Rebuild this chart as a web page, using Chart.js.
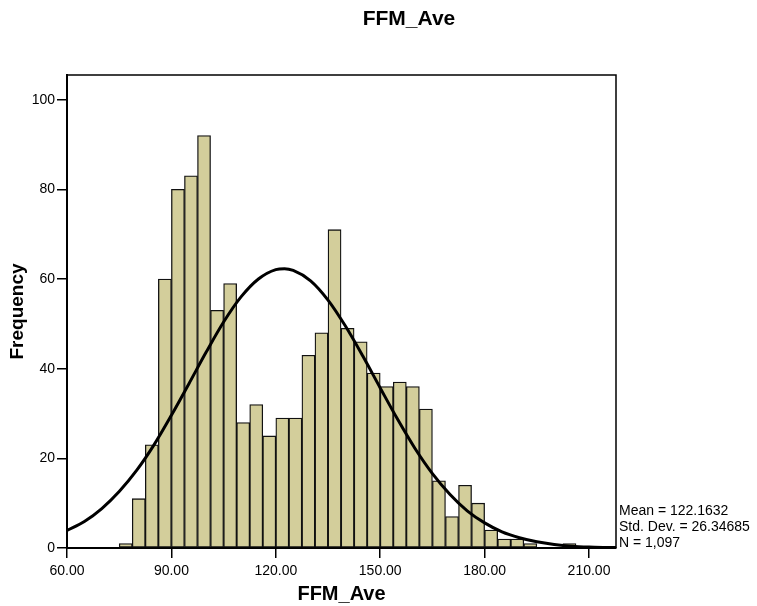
<!DOCTYPE html>
<html lang="en">
  <head>
    <meta charset="UTF-8" />
    <title>FFM_Ave</title>
    <script src="https://cdn.jsdelivr.net/npm/chart.js@4.4.1/dist/chart.umd.min.js"></script>
    <style>
      body {
        margin: 0;
        background-color: #fff;
      }
      #graph {
        width: 757px;
        height: 606px;
      }
    </style>
  </head>
  <body>
    <div id="graph"><canvas id="myChart"></canvas></div>
    <script>
      // histogram bins: first edge and width, one count per bin
      const binStart = 75;
      const binWidth = 3.75;
      const counts = [
        1, 11, 23, 60, 80, 83, 92, 53, 59, 28, 32, 25, 29, 29, 43, 48, 71, 49,
        46, 39, 36, 37, 36, 31, 15, 7, 14, 10, 4, 2, 2, 1, 0, 0, 1,
      ];

      // normal curve
      const curveX = [
        60, 65, 70, 75, 80, 85, 90, 95, 100, 105, 110, 115, 120, 122.5, 125,
        130, 135, 140, 145, 150, 155, 160, 165, 170, 175, 180, 185, 190, 195,
        200, 205, 210, 215, 220,
      ];
      const curveY = [
        3.9, 5.9, 8.8, 12.6, 17.3, 23.0, 29.6, 36.6, 43.7, 50.4, 56.0, 60.0,
        62.1, 62.3, 61.9, 59.6, 55.3, 49.5, 42.8, 35.7, 28.7, 22.2, 16.6, 12.0,
        8.3, 5.6, 3.6, 2.3, 1.4, 0.8, 0.4, 0.2, 0.1, 0.1,
      ];

      const xTicks = [60, 90, 120, 150, 180, 210];
      const yTicks = [0, 20, 40, 60, 80, 100];
      const statLines = ["Mean = 122.1632", "Std. Dev. = 26.34685", "N = 1,097"];

      const FONT = "'Liberation Sans', Arial, sans-serif";

      const bars = counts.map((c, i) => ({
        x: binStart + binWidth * (i + 0.5),
        y: c,
      }));
      const curve = curveX.map((x, i) => ({ x: x, y: curveY[i] }));

      // frame, title and the stats text
      const extras = {
        id: "extras",
        afterDraw(chart) {
          const { ctx, chartArea: a } = chart;
          ctx.save();
          ctx.strokeStyle = "#000";
          ctx.lineWidth = 1.5;
          ctx.beginPath();
          ctx.moveTo(a.left, a.top);
          ctx.lineTo(a.right, a.top);
          ctx.lineTo(a.right, a.bottom);
          ctx.stroke();

          ctx.fillStyle = "#000";
          ctx.textAlign = "center";
          ctx.textBaseline = "middle";
          ctx.font = "bold 21px " + FONT;
          ctx.fillText("FFM_Ave", 409, 19);

          ctx.textAlign = "left";
          ctx.font = "14px " + FONT;
          statLines.forEach((t, i) => {
            ctx.fillText(t, a.right + 3, 511 + i * 16);
          });
          ctx.restore();
        },
      };

      const ctx = document.getElementById("myChart").getContext("2d");
      const myChart = new Chart(ctx, {
        type: "bar",
        data: {
          datasets: [
            {
              type: "line",
              data: curve,
              borderColor: "#000",
              borderWidth: 3,
              pointRadius: 0,
              cubicInterpolationMode: "monotone",
              fill: false,
              order: 0,
            },
            {
              data: bars,
              backgroundColor: "rgb(211, 206, 155)",
              borderColor: "#111",
              borderWidth: 1.3,
              borderSkipped: false,
              barPercentage: 1,
              categoryPercentage: 1,
              order: 1,
            },
          ],
        },
        options: {
          responsive: true,
          maintainAspectRatio: false,
          animation: false,
          layout: { padding: { left: 0, top: 75, right: 141, bottom: 0 } },
          plugins: {
            legend: { display: false },
            tooltip: { enabled: false },
          },
          scales: {
            x: {
              type: "linear",
              min: 60,
              max: 217.75,
              offset: false,
              afterFit: (s) => {
                s.height = 58;
              },
              afterBuildTicks: (s) => {
                s.ticks = xTicks.map((v) => ({ value: v }));
              },
              ticks: {
                color: "#000",
                font: { family: FONT, size: 14 },
                padding: 5,
                maxRotation: 0,
                callback: (v) => Number(v).toFixed(2),
              },
              grid: {
                offset: false,
                drawOnChartArea: false,
                drawTicks: true,
                tickLength: 10,
                color: "#000",
                lineWidth: 1.5,
              },
              border: { display: true, color: "#000", width: 2 },
              title: {
                display: true,
                text: "FFM_Ave",
                color: "#000",
                font: { family: FONT, size: 20, weight: "bold" },
                padding: { top: 0, bottom: 0 },
              },
            },
            y: {
              min: 0,
              max: 105.5,
              afterFit: (s) => {
                s.width = 67;
              },
              afterBuildTicks: (s) => {
                s.ticks = yTicks.map((v) => ({ value: v }));
              },
              ticks: {
                color: "#000",
                font: { family: FONT, size: 14 },
                padding: 2,
              },
              grid: {
                drawOnChartArea: false,
                drawTicks: true,
                tickLength: 10,
                color: "#000",
                lineWidth: 1.5,
              },
              border: { display: true, color: "#000", width: 2 },
              title: {
                display: true,
                text: "Frequency",
                color: "#000",
                font: { family: FONT, size: 19, weight: "bold" },
                padding: { top: 6, bottom: 0 },
              },
            },
          },
        },
        plugins: [extras],
      });
    </script>
  </body>
</html>
